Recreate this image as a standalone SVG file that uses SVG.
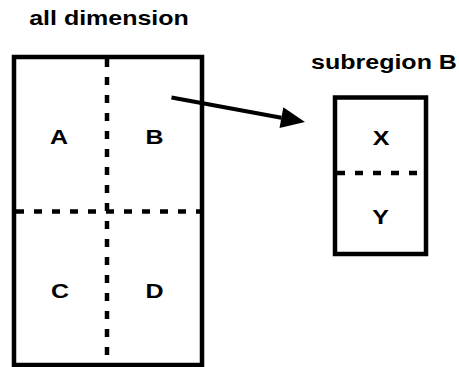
<svg xmlns="http://www.w3.org/2000/svg" width="459" height="367" viewBox="0 0 459 367">
  <style>
    .frame { fill: #ffffff; stroke: #000000; stroke-width: 4.5; }
    .split { fill: none; stroke: #000000; stroke-width: 4.5; stroke-dasharray: 8 10; }
    .link { fill: none; stroke: #000000; stroke-width: 4; }
    text { font-family: "Liberation Sans", Arial, Helvetica, sans-serif; font-weight: bold; font-size: 21px; fill: #000000; text-anchor: middle; }
  </style>
  <defs>
    <marker id="arrowhead" markerUnits="userSpaceOnUse" markerWidth="26" markerHeight="24" viewBox="0 -12 26 24" refX="0" refY="0" orient="auto" overflow="visible">
      <path d="M0,-10.5 L24,0 L0,10.5 z" fill="#000000"/>
    </marker>
  </defs>
  <rect width="459" height="367" fill="#ffffff"/>

  <!-- full domain split into four quadrants -->
  <g id="all-dimension">
    <text transform="translate(109,25) scale(1.19,1)">all dimension</text>
    <rect class="frame" x="14" y="57" width="188" height="308"/>
    <line class="split" x1="107" y1="59" x2="107" y2="363"/>
    <line class="split" x1="16" y1="211.5" x2="200" y2="211.5"/>
    <text transform="translate(59,144) scale(1.19,1)">A</text>
    <text transform="translate(154.5,144) scale(1.19,1)">B</text>
    <text transform="translate(60,298) scale(1.19,1)">C</text>
    <text transform="translate(154.5,298) scale(1.19,1)">D</text>
  </g>

  <!-- quadrant B refined into two halves -->
  <g id="subregion-B">
    <text transform="translate(384,68.5) scale(1.19,1)">subregion B</text>
    <rect class="frame" x="335" y="97.5" width="91" height="156.5"/>
    <line class="split" x1="337" y1="173" x2="424" y2="173"/>
    <text transform="translate(381,145) scale(1.19,1)">X</text>
    <text transform="translate(380.5,224) scale(1.19,1)">Y</text>
  </g>

  <g id="connectors">
    <line class="link" x1="171.5" y1="97.5" x2="281.4" y2="117.7" marker-end="url(#arrowhead)"/>
  </g>
</svg>
